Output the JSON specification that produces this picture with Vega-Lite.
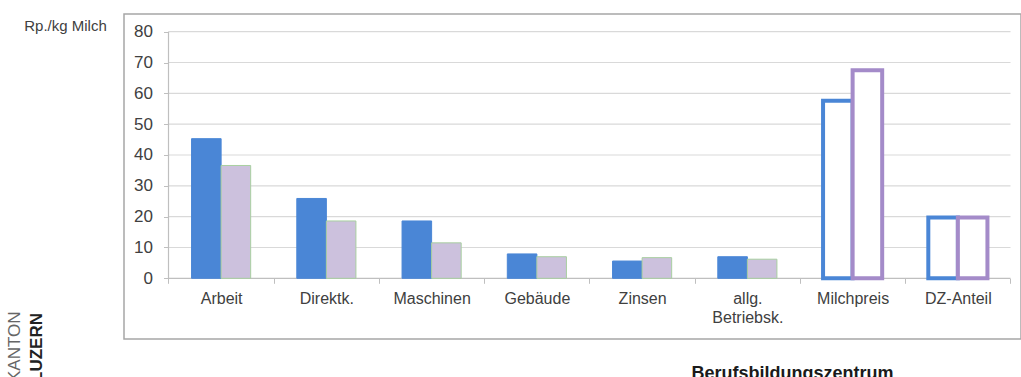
{
  "$schema": "https://vega.github.io/schema/vega-lite/v6.json",
  "width": 897,
  "height": 325,
  "autosize": {"type": "none"},
  "padding": {"left": 124, "top": 14, "right": 0, "bottom": 38},
  "background": "white",
  "config": {
    "view": {"stroke": "#A6A6A6", "strokeWidth": 1.5},
    "font": "Liberation Sans"
  },
  "title": {
    "text": "KANTON",
    "subtitle": "LUZERN",
    "orient": "left",
    "anchor": "start",
    "frame": "group",
    "fontSize": 17,
    "fontWeight": "normal",
    "color": "#666666",
    "subtitleFontSize": 17,
    "subtitleFontWeight": "bold",
    "subtitleColor": "#222222",
    "subtitlePadding": 5,
    "offset": -22,
    "dx": -43
  },
  "datasets": {
    "costs": [
      {"cat": "Arbeit", "s": "Serie 1", "val": 45.3},
      {"cat": "Arbeit", "s": "Serie 2", "val": 36.6},
      {"cat": "Direktk.", "s": "Serie 1", "val": 25.9},
      {"cat": "Direktk.", "s": "Serie 2", "val": 18.6},
      {"cat": "Maschinen", "s": "Serie 1", "val": 18.6},
      {"cat": "Maschinen", "s": "Serie 2", "val": 11.5},
      {"cat": "Gebäude", "s": "Serie 1", "val": 7.9},
      {"cat": "Gebäude", "s": "Serie 2", "val": 7.0},
      {"cat": "Zinsen", "s": "Serie 1", "val": 5.6},
      {"cat": "Zinsen", "s": "Serie 2", "val": 6.7},
      {"cat": "allg. Betriebsk.", "s": "Serie 1", "val": 7.0},
      {"cat": "allg. Betriebsk.", "s": "Serie 2", "val": 6.2},
      {"cat": "Milchpreis", "s": "Serie 1", "val": 57.6},
      {"cat": "Milchpreis", "s": "Serie 2", "val": 67.5},
      {"cat": "DZ-Anteil", "s": "Serie 1", "val": 19.7},
      {"cat": "DZ-Anteil", "s": "Serie 2", "val": 19.7}
    ],
    "grid": [
      {"v": 0}, {"v": 10}, {"v": 20}, {"v": 30}, {"v": 40},
      {"v": 50}, {"v": 60}, {"v": 70}, {"v": 80}
    ]
  },
  "layer": [
    {
      "data": {"name": "grid"},
      "mark": {"type": "rule", "strokeWidth": 1.2},
      "encoding": {
        "y": {
          "field": "v", "type": "quantitative",
          "scale": {"domain": [-19.69, 85.74], "nice": false, "zero": false},
          "axis": {
            "title": "Rp./kg Milch",
            "offset": -44.5,
            "values": [0, 10, 20, 30, 40, 50, 60, 70, 80],
            "grid": false,
            "domain": false,
            "tickColor": "#BFBFBF",
            "tickSize": 5,
            "labelFontSize": 17,
            "labelColor": "#404040",
            "labelPadding": 11,
            "titleAngle": 0,
            "titleX": -103.5,
            "titleY": 11,
            "titleAlign": "center",
            "titleBaseline": "middle",
            "titleFontSize": 15,
            "titleFontWeight": "normal",
            "titleColor": "#404040"
          }
        },
        "x": {
          "datum": "Arbeit", "type": "nominal", "bandPosition": 0,
          "scale": {
            "domain": ["Arbeit", "Direktk.", "Maschinen", "Gebäude", "Zinsen", "allg. Betriebsk.", "Milchpreis", "DZ-Anteil"],
            "paddingInner": 0, "paddingOuter": 0.2613, "align": 0.809
          },
          "axis": {
            "title": "Berufsbildungszentrum",
            "offset": -60.7,
            "domain": false,
            "grid": false,
            "tickBand": "extent",
            "tickColor": "#BFBFBF",
            "tickSize": 5,
            "labelFontSize": 16,
            "labelColor": "#404040",
            "labelPadding": 7,
            "labelAngle": 0,
            "labelExpr": "split(datum.label, ' ')",
            "labelLineHeight": 19,
            "titleX": 668,
            "titleY": 100,
            "titleAlign": "center",
            "titleBaseline": "alphabetic",
            "titleFontSize": 18,
            "titleFontWeight": "bold",
            "titleColor": "#1A1A1A"
          }
        },
        "x2": {"datum": "DZ-Anteil", "bandPosition": 1},
        "stroke": {
          "condition": {"test": "datum.v == 0", "value": "#BFBFBF"},
          "value": "#D9D9D9"
        }
      }
    },
    {
      "data": {"name": "grid"},
      "transform": [{"filter": "datum.v == 0"}],
      "mark": {"type": "rule", "strokeWidth": 1.2, "color": "#BFBFBF"},
      "encoding": {
        "x": {"datum": "Arbeit", "type": "nominal", "bandPosition": 0},
        "y": {"datum": 0, "type": "quantitative"},
        "y2": {"datum": 80}
      }
    },
    {
      "data": {"name": "costs"},
      "transform": [{"filter": "datum.cat != 'Milchpreis' && datum.cat != 'DZ-Anteil'"}],
      "mark": {"type": "bar", "strokeWidth": 1},
      "encoding": {
        "x": {"field": "cat", "type": "nominal"},
        "xOffset": {
          "field": "s", "type": "nominal",
          "scale": {"domain": ["Serie 1", "Serie 2"], "paddingOuter": 0.78, "paddingInner": 0}
        },
        "y": {"field": "val", "type": "quantitative"},
        "fill": {
          "field": "s", "type": "nominal",
          "scale": {"domain": ["Serie 1", "Serie 2"], "range": ["#4A86D6", "#CCC1DD"]},
          "legend": null
        },
        "stroke": {
          "condition": {"test": "datum.s == 'Serie 2'", "value": "#A8CFA0"},
          "value": "#4A86D6"
        }
      }
    },
    {
      "data": {"name": "costs"},
      "transform": [{"filter": "datum.cat == 'Milchpreis' || datum.cat == 'DZ-Anteil'"}],
      "mark": {"type": "bar", "fill": "white", "strokeWidth": 4},
      "encoding": {
        "x": {"field": "cat", "type": "nominal"},
        "xOffset": {"field": "s", "type": "nominal"},
        "y": {"field": "val", "type": "quantitative"},
        "stroke": {
          "field": "s", "type": "nominal",
          "scale": {"domain": ["Serie 1", "Serie 2"], "range": ["#4A86D6", "#A48BC9"]},
          "legend": null
        }
      }
    }
  ]
}
